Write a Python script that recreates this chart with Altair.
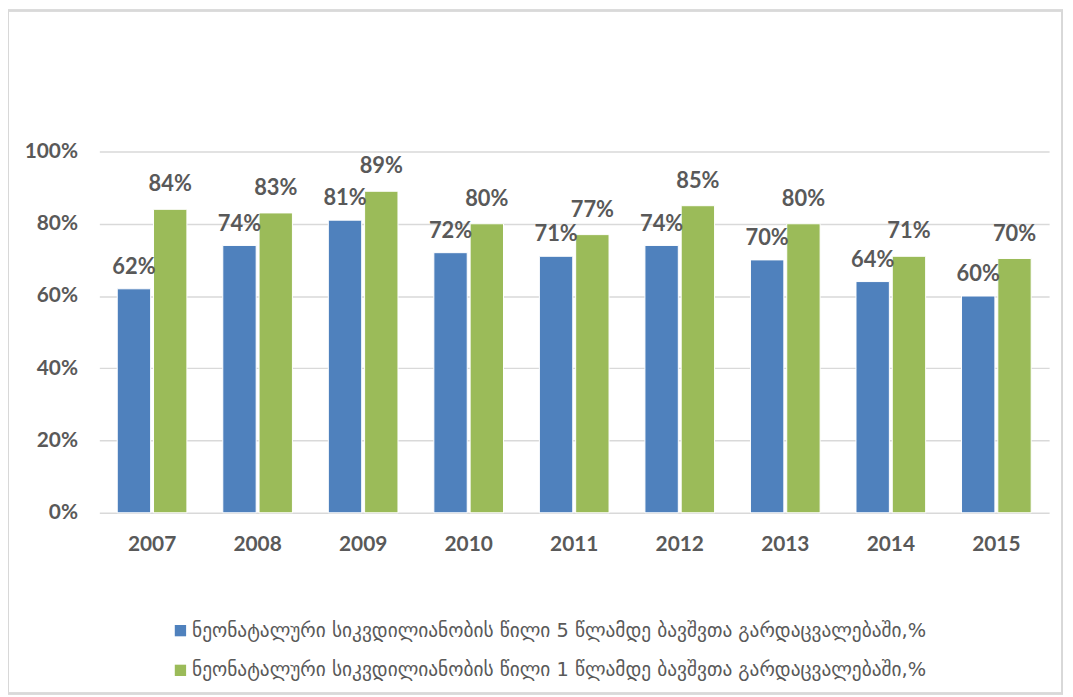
import altair as alt
import pandas as pd

years = ["2007", "2008", "2009", "2010", "2011", "2012", "2013", "2014", "2015"]
s1_name = "ნეონატალური სიკვდილიანობის წილი 5 წლამდე ბავშვთა გარდაცვალებაში,%"
s2_name = "ნეონატალური სიკვდილიანობის წილი 1 წლამდე ბავშვთა გარდაცვალებაში,%"
s1_vals = [62, 74, 81, 72, 71, 74, 70, 64, 60]
s2_vals = [84, 83, 89, 80, 77, 85, 80, 71, 70.4]
s2_labels = ["84%", "83%", "89%", "80%", "77%", "85%", "80%", "71%", "70%"]
s1_labels = [f"{v}%" for v in s1_vals]

rows = []
for y, v, l in zip(years, s1_vals, s1_labels):
    rows.append({"year": y, "series": s1_name, "value": v / 100, "label": l})
for y, v, l in zip(years, s2_vals, s2_labels):
    rows.append({"year": y, "series": s2_name, "value": v / 100, "label": l})
df = pd.DataFrame(rows)

GRAY = "#595959"
NUMFONT = "Lato"

x = alt.X("year:N", title=None,
          scale=alt.Scale(paddingInner=0.34, paddingOuter=0.17),
          axis=alt.Axis(labelAngle=0, labelFontSize=21, labelFont=NUMFONT, labelFontWeight="bold",
                        labelColor=GRAY, ticks=False, domain=False, labelPadding=21))
xoff = alt.XOffset("series:N", scale=alt.Scale(paddingInner=0.08),
                   sort=[s1_name, s2_name])
y = alt.Y("value:Q", title=None,
          scale=alt.Scale(domain=[0, 1]),
          axis=alt.Axis(format=".0%", values=[0, 0.2, 0.4, 0.6, 0.8, 1.0], labelFontSize=21,
                        labelFont=NUMFONT, labelFontWeight="bold", labelColor=GRAY,
                        ticks=False, domain=False, labelPadding=22,
                        gridColor="#d9d9d9", gridWidth=1.5))

bars = alt.Chart(df).mark_bar(stroke="white", strokeWidth=1).encode(
    x=x, xOffset=xoff, y=y,
    color=alt.Color("series:N", sort=[s1_name, s2_name],
                    scale=alt.Scale(domain=[s1_name, s2_name], range=["#4F81BD", "#9BBB59"]),
                    legend=alt.Legend(title=None, orient="none", legendX=72, legendY=473,
                                      symbolType="square", symbolSize=130, symbolStrokeWidth=0,
                                      labelFont="DejaVu Sans", labelFontSize=19.5, labelColor=GRAY,
                                      labelLimit=950, rowPadding=19, symbolOffset=0,
                                      labelOffset=2)),
)

def labels(name, dy):
    return alt.Chart(df).transform_filter(alt.datum.series == name).mark_text(
        fontSize=22, font=NUMFONT, fontWeight="bold", color=GRAY, dy=dy, baseline="bottom"
    ).encode(x=x, xOffset=xoff, y=y, text="label:N")

border = alt.Chart(df).mark_rect(fill=None, stroke="#d9d9d9", strokeWidth=1.5, clip=False).encode(
    x=alt.value(-92), x2=alt.value(970), y=alt.value(-142), y2=alt.value(546)
)

chart = alt.layer(bars, labels(s1_name, -10), labels(s2_name, -13), border).properties(
    width=957, height=364,
    padding={"left": 92, "top": 142, "right": 16, "bottom": 183},
    autosize=alt.AutoSizeParams(type="none"),
    background="white",
).configure_view(stroke=None)

chart.save("out.html", embed_options={"renderer": "svg", "actions": False})
